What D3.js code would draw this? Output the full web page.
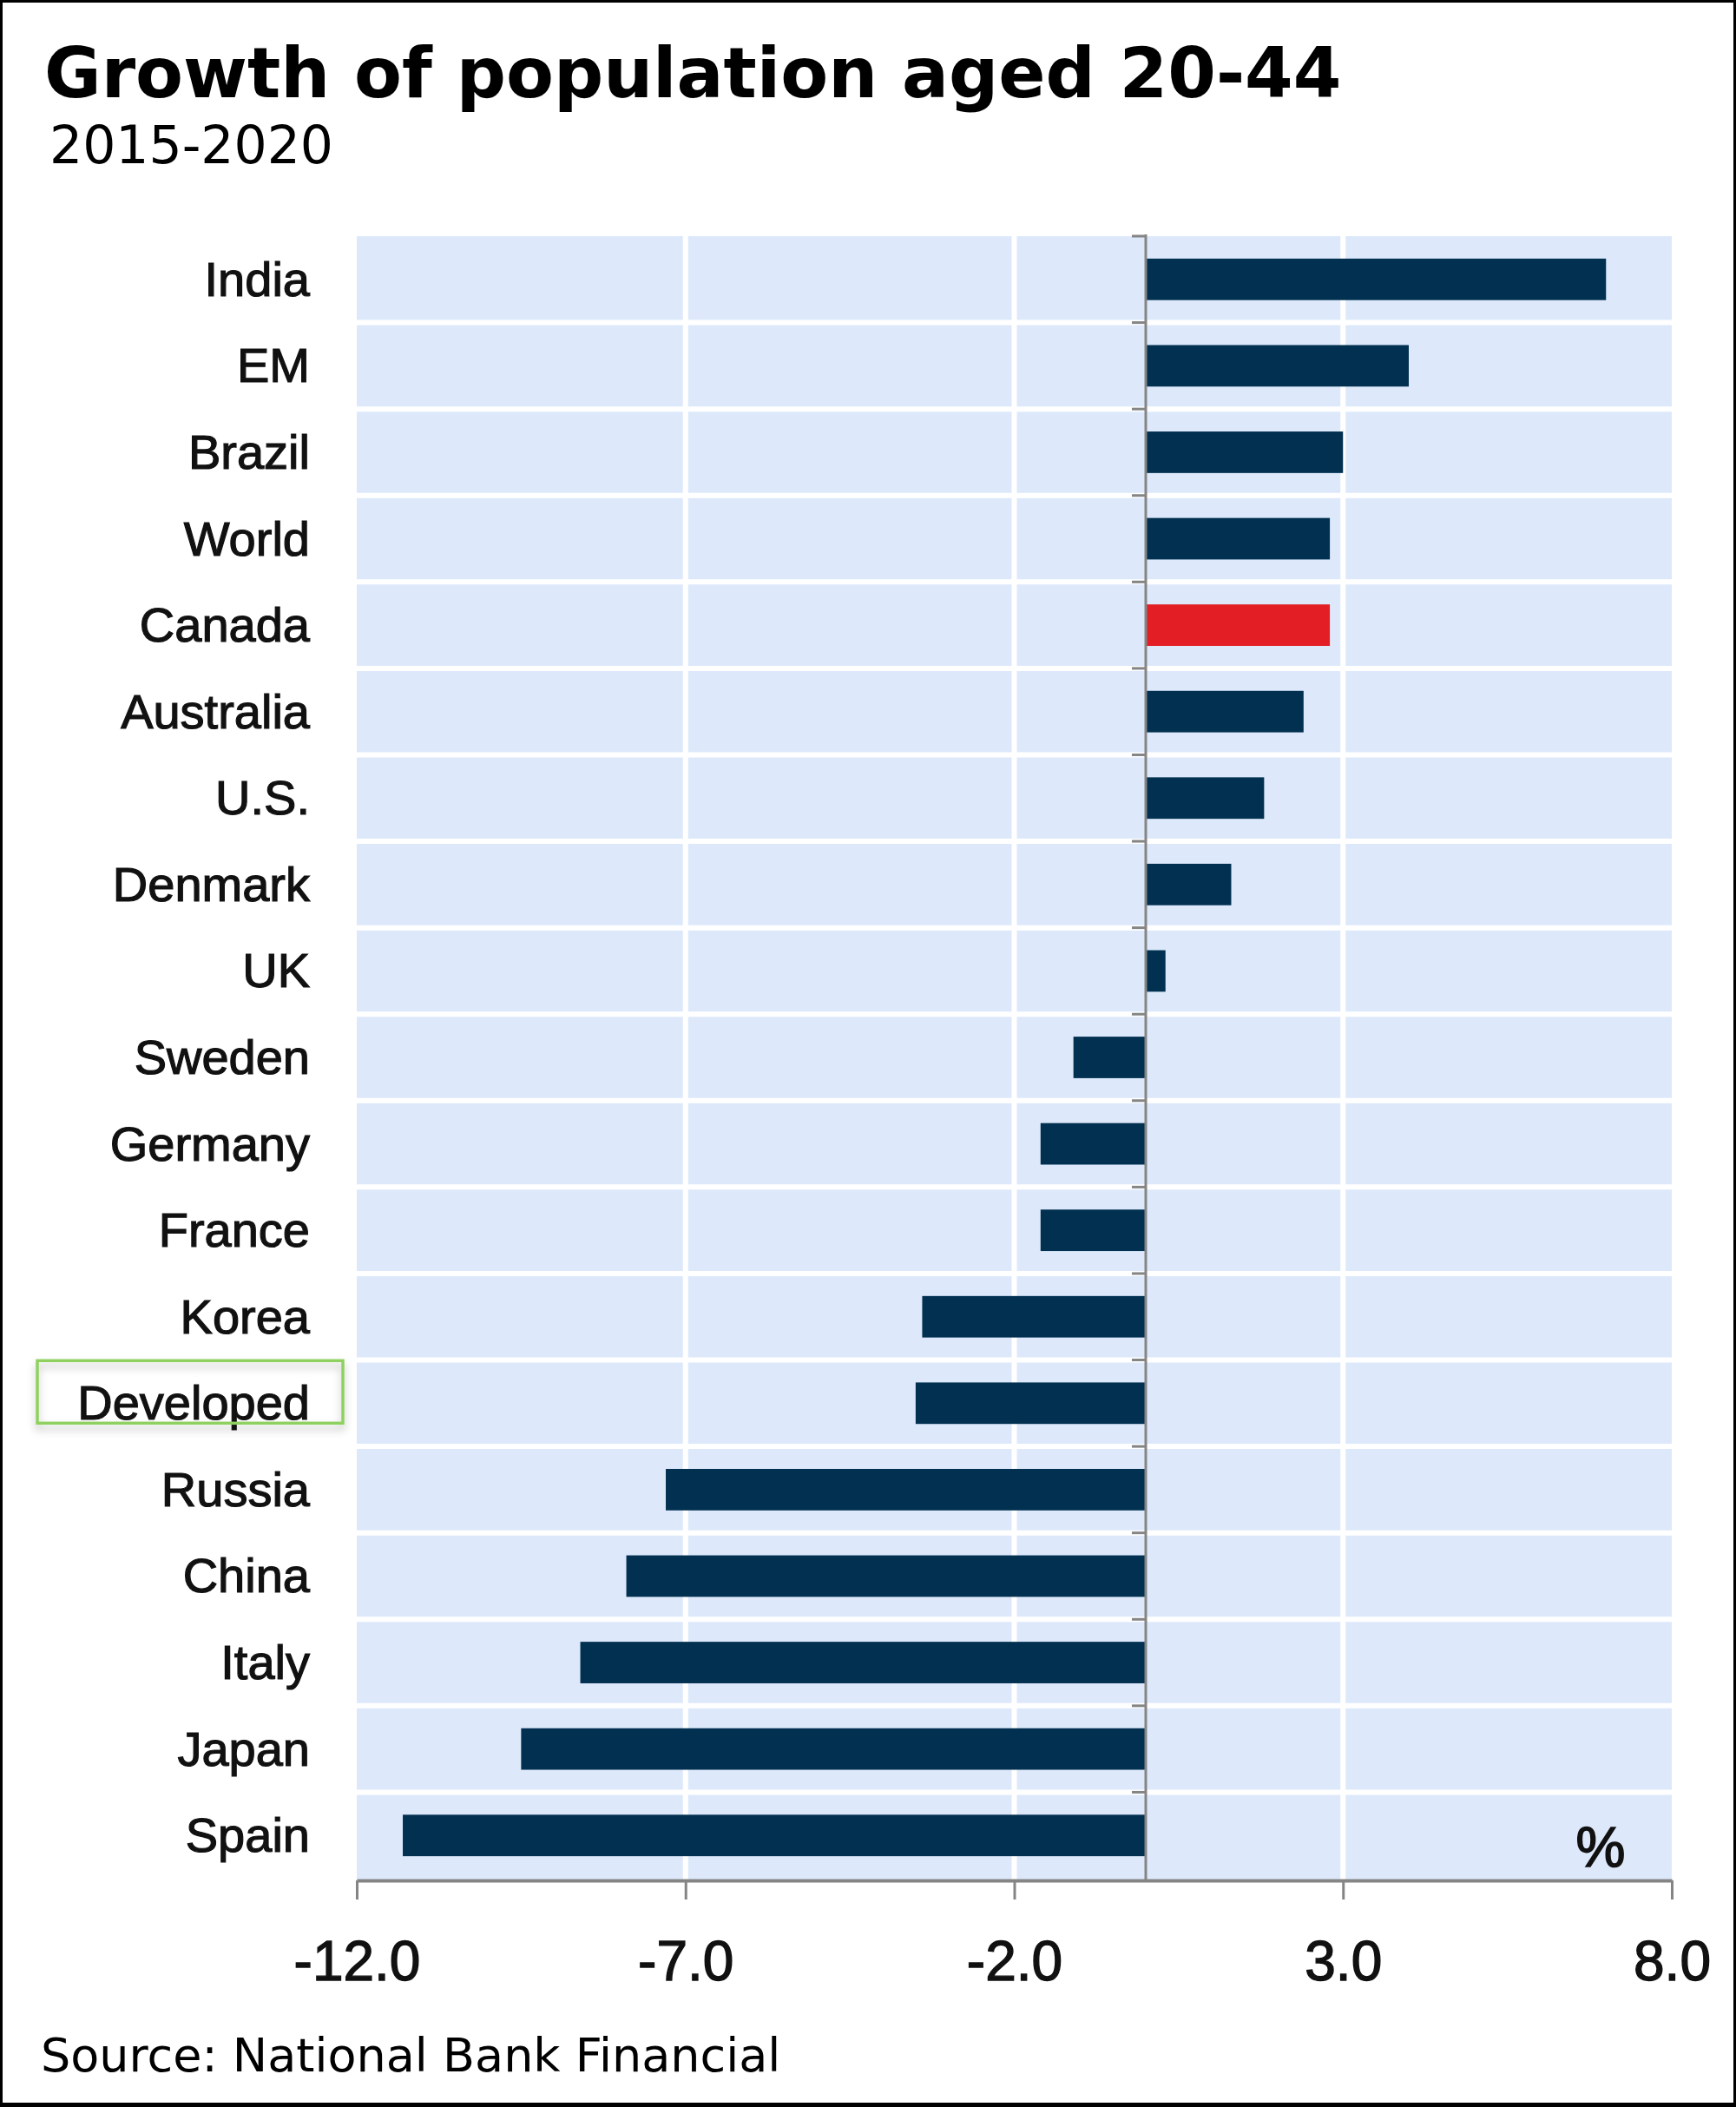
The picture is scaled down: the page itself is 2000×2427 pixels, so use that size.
<!DOCTYPE html>
<html>
<head>
<meta charset="utf-8">
<script src="https://cdn.jsdelivr.net/npm/d3@7"></script>
<style>
  html, body { margin: 0; padding: 0; background: #fff; }
  svg { display: block; }
</style>
</head>
<body>
<svg id="pop-growth-svg"></svg>
<script>
// chart data
const categories = ['India', 'EM', 'Brazil', 'World', 'Canada', 'Australia', 'U.S.', 'Denmark', 'UK',
    'Sweden', 'Germany', 'France', 'Korea', 'Developed', 'Russia', 'China', 'Italy', 'Japan', 'Spain'];
const growth = [7.0, 4.0, 3.0, 2.8, 2.8, 2.4, 1.8, 1.3, 0.3,
    -1.1, -1.6, -1.6, -3.4, -3.5, -7.3, -7.9, -8.6, -9.5, -11.3];
const highlighted = ['Canada'];
const boxedLabel = 'Developed';
const xTicks = [-12, -7, -2, 3, 8];
const titleText = 'Growth of population aged 20-44';
const subtitleText = '2015-2020';
const sourceText = 'Source: National Bank Financial';
const unitText = '%';

const width = 2000;
const height = 2427;
const plot = { left: 411, right: 1926, top: 272, bottom: 2166 };

const navy = '#023050';
const red = '#e31e24';
const plotBg = '#dde9fb';
const axisGrey = '#858585';

const data = categories.map((c, i) => ({ name: c, value: growth[i] }));

const svg = d3.select('#pop-growth-svg')
    .attr('width', width)
    .attr('height', height);

// drop shadow for the annotation box
const defs = svg.append('defs');
const shadow = defs.append('filter')
    .attr('id', 'box-shadow')
    .attr('x', '-10%').attr('y', '-30%')
    .attr('width', '120%').attr('height', '180%');
shadow.append('feDropShadow')
    .attr('dx', 0).attr('dy', 6)
    .attr('stdDeviation', 5)
    .attr('flood-color', '#000')
    .attr('flood-opacity', 0.25);

// scales
const x = d3.scaleLinear()
    .domain([xTicks[0], xTicks[xTicks.length - 1]])
    .range([plot.left, plot.right]);

const y = d3.scaleBand()
    .domain(categories)
    .range([plot.top, plot.bottom - 2])
    .paddingInner(0.52)
    .paddingOuter(0.26);

// plot background
svg.append('rect')
    .attr('x', x.range()[0])
    .attr('y', plot.top)
    .attr('width', x.range()[1] - x.range()[0])
    .attr('height', plot.bottom - plot.top)
    .attr('fill', plotBg);

// white grid: vertical lines at inner ticks, horizontal lines between rows
svg.append('g')
    .selectAll('line')
    .data(xTicks.slice(1, -1))
    .join('line')
    .attr('x1', d => x(d))
    .attr('x2', d => x(d))
    .attr('y1', plot.top)
    .attr('y2', plot.bottom)
    .attr('stroke', '#fff')
    .attr('stroke-width', 6);

const boundaries = d3.range(1, categories.length).map(i => y.range()[0] + i * y.step());

svg.append('g')
    .selectAll('line')
    .data(boundaries)
    .join('line')
    .attr('x1', plot.left)
    .attr('x2', plot.right)
    .attr('y1', d => d)
    .attr('y2', d => d)
    .attr('stroke', '#fff')
    .attr('stroke-width', 6);

// bars
svg.append('g')
    .selectAll('rect')
    .data(data)
    .join('rect')
    .attr('x', d => x(Math.min(0, d.value)))
    .attr('width', d => Math.abs(x(d.value) - x(0)))
    .attr('y', d => y(d.name))
    .attr('height', y.bandwidth())
    .attr('fill', d => highlighted.includes(d.name) ? red : navy);

// zero axis with small ticks on the row boundaries
const zeroAxis = svg.append('g');
zeroAxis.append('line')
    .attr('x1', x(0)).attr('x2', x(0))
    .attr('y1', plot.top - 2)
    .attr('y2', plot.bottom)
    .attr('stroke', axisGrey)
    .attr('stroke-width', 3);
zeroAxis.selectAll('.row-tick')
    .data([plot.top].concat(boundaries))
    .join('line')
    .attr('class', 'row-tick')
    .attr('x1', x(0) - 16)
    .attr('x2', x(0))
    .attr('y1', d => d)
    .attr('y2', d => d)
    .attr('stroke', axisGrey)
    .attr('stroke-width', 3);

// bottom axis
const xAxis = svg.append('g')
    .attr('transform', `translate(0, ${plot.bottom})`)
    .call(d3.axisBottom(x)
        .tickValues(xTicks)
        .tickFormat(d => d.toFixed(1))
        .tickSize(22)
        .tickSizeOuter(0));
xAxis.select('.domain')
    .attr('stroke', axisGrey)
    .attr('stroke-width', 4);
xAxis.selectAll('.tick line')
    .attr('stroke', axisGrey)
    .attr('stroke-width', 3);
xAxis.selectAll('.tick text')
    .attr('y', 115)
    .attr('dy', 0)
    .attr('fill', '#111')
    .attr('stroke', '#111')
    .attr('stroke-width', 1.4)
    .style('font-family', '"Liberation Sans", Arial, sans-serif')
    .style('font-size', '64px');

// category labels
svg.append('g')
    .selectAll('text')
    .data(data)
    .join('text')
    .attr('x', 357)
    .attr('y', d => y(d.name) + y.bandwidth() / 2 + 19)
    .attr('text-anchor', 'end')
    .attr('fill', '#111')
    .attr('stroke', '#111')
    .attr('stroke-width', 1.2)
    .style('font-family', '"Liberation Sans", Arial, sans-serif')
    .style('font-size', '56px')
    .text(d => d.name);

// green annotation box around one label
const boxY = y(boxedLabel) + y.bandwidth() / 2;
svg.append('rect')
    .attr('x', 43)
    .attr('y', boxY - 49)
    .attr('width', 352)
    .attr('height', 72)
    .attr('fill', 'none')
    .attr('stroke', '#8fd160')
    .attr('stroke-width', 3.5)
    .attr('filter', 'url(#box-shadow)');

// unit label
svg.append('text')
    .attr('x', 1844)
    .attr('y', plot.bottom - 16)
    .attr('text-anchor', 'middle')
    .attr('fill', '#111')
    .attr('stroke', '#111')
    .attr('stroke-width', 1.6)
    .style('font-family', '"Liberation Sans", Arial, sans-serif')
    .style('font-size', '64px')
    .text(unitText);

// title, subtitle, source
svg.append('text')
    .attr('x', 51)
    .attr('y', 112)
    .attr('fill', '#000')
    .style('font-family', '"DejaVu Sans", Verdana, sans-serif')
    .style('font-weight', 'bold')
    .style('font-size', '80px')
    .text(titleText);

svg.append('text')
    .attr('x', 57)
    .attr('y', 188)
    .attr('fill', '#000')
    .style('font-family', '"DejaVu Sans", Verdana, sans-serif')
    .style('font-size', '60px')
    .text(subtitleText);

svg.append('text')
    .attr('x', 47)
    .attr('y', 2386)
    .attr('fill', '#000')
    .style('font-family', '"DejaVu Sans", Verdana, sans-serif')
    .style('font-size', '54px')
    .text(sourceText);

// outer frame
svg.append('rect')
    .attr('x', 1.5)
    .attr('y', 1.5)
    .attr('width', width - 3)
    .attr('height', height - 3)
    .attr('fill', 'none')
    .attr('stroke', '#000')
    .attr('stroke-width', 3);
svg.append('line')
    .attr('x1', 0).attr('x2', width)
    .attr('y1', height - 2.5).attr('y2', height - 2.5)
    .attr('stroke', '#000')
    .attr('stroke-width', 5);
</script>
</body>
</html>
